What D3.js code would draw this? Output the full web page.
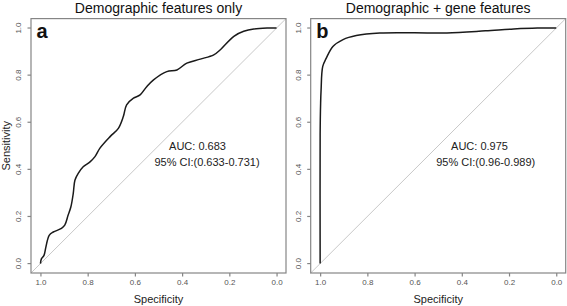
<!DOCTYPE html>
<html>
<head>
<meta charset="utf-8">
<script src="https://cdn.jsdelivr.net/npm/d3@7"></script>
<style>
  body { margin: 0; background: #fff; }
  text { font-family: "Liberation Sans", Arial, sans-serif; }
</style>
</head>
<body>
<svg id="chart" width="567" height="306"></svg>
<script>
// ROC curve a: demographic features only
const specA = [1, 0.996, 0.985, 0.977, 0.963, 0.946, 0.911, 0.897, 0.883, 0.871, 0.861, 0.854, 0.84, 0.819, 0.79, 0.769, 0.748, 0.705, 0.67, 0.649, 0.635, 0.606, 0.578, 0.55, 0.521, 0.465, 0.422, 0.38, 0.323, 0.266, 0.238, 0.181, 0.139, 0.096, 0.04, 0];
const sensA = [0, 0.02, 0.035, 0.07, 0.12, 0.134, 0.149, 0.163, 0.205, 0.241, 0.298, 0.354, 0.383, 0.411, 0.432, 0.454, 0.49, 0.539, 0.574, 0.624, 0.674, 0.702, 0.716, 0.751, 0.78, 0.815, 0.822, 0.851, 0.868, 0.886, 0.908, 0.965, 0.986, 0.996, 1, 1];

// ROC curve b: demographic + gene features
const specB = [1, 1, 0.998, 0.996, 0.989, 0.974, 0.946, 0.903, 0.847, 0.747, 0.6, 0.463, 0.3, 0.18, 0.08, 0];
const sensB = [0, 0.55, 0.68, 0.737, 0.837, 0.872, 0.922, 0.951, 0.968, 0.979, 0.98, 0.979, 0.988, 0.996, 1, 1];

const ticks = [1.0, 0.8, 0.6, 0.4, 0.2, 0.0];
const titles = ["Demographic features only", "Demographic + gene features"];
const letters = ["a", "b"];
const aucText = ["AUC: 0.683", "AUC: 0.975"];
const ciText = ["95% CI:(0.633-0.731)", "95% CI:(0.96-0.989)"];

const svg = d3.select("#chart");

const panels = [
  { left: 31, spec: specA, sens: sensA, aucX: 197.5, ciX: 207, ylab: true },
  { left: 310.7, spec: specB, sens: sensB, aucX: 479.5, ciX: 485.7, ylab: false },
];
const pw = 255, plotTop = 18.6, plotBottom = 273;

panels.forEach(function (p, i) {
  const x = d3.scaleLinear().domain([1.04, -0.04]).range([p.left, p.left + pw]);
  const y = d3.scaleLinear().domain([-0.04, 1.04]).range([plotBottom, plotTop]);
  const g = svg.append("g");

  // diagonal reference line
  g.append("line")
    .attr("x1", x(1.04)).attr("y1", y(-0.04))
    .attr("x2", x(-0.04)).attr("y2", y(1.04))
    .attr("stroke", "#c8c8c8").attr("stroke-width", 1);

  // roc curve
  const pts = p.spec.map((s, k) => [s, p.sens[k]]);
  const line = d3.line()
    .x(d => x(d[0]))
    .y(d => y(d[1]))
    .curve(d3.curveCatmullRom.alpha(0.5));
  g.append("path")
    .attr("d", line(pts))
    .attr("fill", "none")
    .attr("stroke", "#1a1a1a")
    .attr("stroke-width", 1.5);

  // box
  g.append("rect")
    .attr("x", p.left).attr("y", plotTop)
    .attr("width", pw).attr("height", plotBottom - plotTop)
    .attr("fill", "none").attr("stroke", "#858585").attr("stroke-width", 1.2);

  // axes
  const xAxis = d3.axisBottom(x).tickValues(ticks).tickSize(3.5).tickPadding(3)
    .tickFormat(d3.format(".1f"));
  const gx = g.append("g").attr("transform", `translate(0,${plotBottom})`).call(xAxis);
  const yAxis = d3.axisLeft(y).tickValues(ticks).tickSize(3.5).tickFormat(d3.format(".1f"));
  const gy = g.append("g").attr("transform", `translate(${p.left},0)`).call(yAxis);
  [gx, gy].forEach(a => {
    a.select(".domain").remove();
    a.selectAll("line").attr("stroke", "#858585").attr("stroke-width", 1.2);
    a.selectAll("text").attr("fill", "#555").style("font-size", "8px")
      .style("font-family", '"Liberation Sans", Arial, sans-serif');
  });
  gy.selectAll(".tick").attr("transform", null);
  gy.selectAll(".tick line")
    .attr("y1", d => y(d)).attr("y2", d => y(d));
  gy.selectAll("text")
    .attr("x", null).attr("dy", null)
    .attr("text-anchor", "middle")
    .attr("transform", d => `translate(-10,${y(d)}) rotate(-90)`)
    .attr("y", 0);

  // labels
  svg.append("text").attr("x", p.left + pw / 2).attr("y", 12.5)
    .attr("text-anchor", "middle").style("font-size", "14px").attr("fill", "#111")
    .text(titles[i]);
  svg.append("text").attr("x", p.left + 5.5).attr("y", 38.3)
    .style("font-size", "20px").style("font-weight", "bold").attr("fill", "#111")
    .text(letters[i]);
  svg.append("text").attr("x", p.left + pw / 2).attr("y", 303)
    .attr("text-anchor", "middle").style("font-size", "11px").attr("fill", "#222")
    .text("Specificity");
  svg.append("text").attr("x", p.aucX).attr("y", 149.5)
    .attr("text-anchor", "middle").style("font-size", "11px").attr("fill", "#222")
    .text(aucText[i]);
  svg.append("text").attr("x", p.ciX).attr("y", 166)
    .attr("text-anchor", "middle").style("font-size", "11px").attr("fill", "#222")
    .text(ciText[i]);
  if (p.ylab) {
    svg.append("text")
      .attr("transform", `translate(10,${(plotTop + plotBottom) / 2}) rotate(-90)`)
      .attr("text-anchor", "middle").style("font-size", "11px").attr("fill", "#222")
      .text("Sensitivity");
  }
});
</script>
</body>
</html>
